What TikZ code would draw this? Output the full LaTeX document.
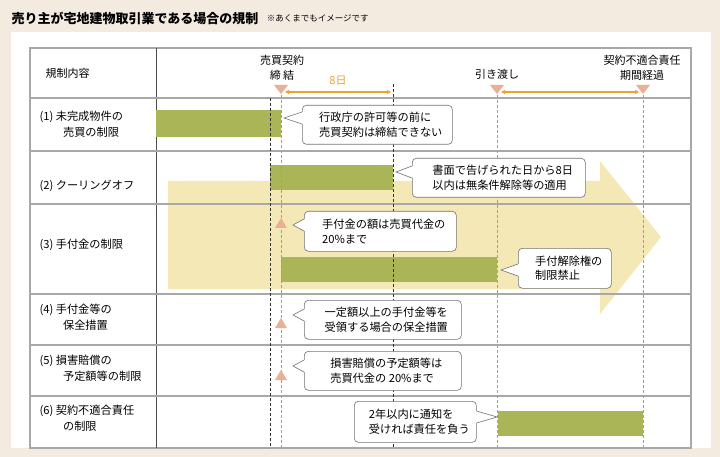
\documentclass[tikz,border=0pt]{standalone}
\usepackage{fontspec}
\setmainfont{Noto Sans CJK JP}
\usetikzlibrary{calc,positioning,arrows.meta}
\definecolor{bgbeige}{HTML}{F3EAE0}
\definecolor{barolive}{HTML}{AAB558}
\definecolor{bigarrow}{HTML}{F4E8B6}
\definecolor{tripink}{HTML}{EBAF95}
\definecolor{daysorange}{HTML}{F0A030}
\definecolor{rowgray}{HTML}{A8A8A8}
\definecolor{redline}{HTML}{E08080}
\begin{document}
\begin{tikzpicture}[x=1pt,y=-1pt,
    rowline/.style={draw=rowgray,line width=1.2pt},
    bar/.style={fill=barolive},
    blackdash/.style={densely dashed,black!80,line width=0.5pt},
    reddash/.style={densely dashed,redline,line width=0.5pt},
    callout/.style={draw=black!55,fill=white,rounded corners=4pt,line width=0.6pt,
        align=left,font=\fontsize{11.2}{14.5}\selectfont,inner sep=0pt,anchor=north west},
    rowlabel/.style={anchor=west,align=left,font=\fontsize{11.2}{16}\selectfont},
    headlabel/.style={align=center,font=\fontsize{11}{14.5}\selectfont},
    downtri/.style={fill=tripink},
    daysarrow/.style={{Triangle[length=4pt,width=4pt]}-{Triangle[length=4pt,width=4pt]},daysorange,line width=1.2pt}
    ]
% background and panel
\fill[bgbeige] (0,0) rectangle (720,457);
\fill[white] (11,32) rectangle (711,448);
\node[anchor=west,font=\bfseries\fontsize{13}{14}\selectfont] (title) at (8,18) {売り主が宅地建物取引業である場合の規制};
\node[anchor=west,font=\fontsize{8.5}{10}\selectfont] (note) at (title.east) {\,※あくまでもイメージです};

% big yellow arrow
\fill[bigarrow] (168,181) -- (600,181) -- (600,161) -- (661,237) -- (600,314) -- (600,289) -- (168,289) -- cycle;

% table frame
\draw[rowline] (30,48) rectangle (691,448);
\draw[black!70,line width=0.6pt] (156,48) -- (156,448);
\foreach \y in {98,151,204,294,345,396}
  \draw[rowline] (30,\y) -- (691,\y);

% bars
\fill[bar] (156,110) rectangle (281,137);
\fill[bar] (270,165) rectangle (393,190);
\fill[bar] (281,257) rectangle (497,282);
\fill[bar] (498,411) rectangle (643,436);

% vertical guide lines
\draw[blackdash] (270,98) -- (270,448);
\draw[blackdash] (393,84) -- (393,448);
\foreach \x in {281,497,643}
  \draw[reddash] (\x,95) -- (\x,448);

% header
\node[headlabel,anchor=west] (head) at (42,73) {規制内容};
\node[headlabel] (contract) at (282,68) {売買契約\\締 結};
\node[headlabel] (handover) at (497,74) {引き渡し};
\node[headlabel] (expiry) at (642,68) {契約不適合責任\\期間経過};
\foreach \x in {281,497,643}
  \fill[downtri] (\x-7,85) -- (\x+7,85) -- (\x,94) -- cycle;
\coordinate (d1) at (285,92);
\coordinate (d2) at (391,92);
\coordinate (d3) at (501,92);
\coordinate (d4) at (639,92);
\draw[daysarrow] (d1) -- (d2);
\draw[daysarrow] (d3) -- (d4);
\node[font=\fontsize{11}{12}\selectfont,text=daysorange] (eight) at (338,81) {8日};

% row labels
\node[rowlabel] (r1) at (36,124) {(1) 未完成物件の\\\hspace*{2.1em}売買の制限};
\node[rowlabel] (r2) at (36,186) {(2) クーリングオフ};
\node[rowlabel] (r3) at (36,245) {(3) 手付金の制限};
\node[rowlabel] (r4) at (36,317) {(4) 手付金等の\\\hspace*{2.1em}保全措置};
\node[rowlabel] (r5) at (36,368) {(5) 損害賠償の\\\hspace*{2.1em}予定額等の制限};
\node[rowlabel] (r6) at (36,418) {(6) 契約不適合責任\\\hspace*{2.1em}の制限};

% small up triangles
\foreach \y in {218,318,370}
  \fill[downtri] (275,\y+10) -- (287,\y+10) -- (281,\y) -- cycle;

% callouts
\node[callout,minimum width=150pt,minimum height=39pt] (c1) at (302,105) {\hspace*{7pt}行政庁の許可等の前に\\\hspace*{7pt}売買契約は締結できない};
\node[callout,minimum width=173pt,minimum height=39pt] (c2) at (412,158) {\hspace*{8pt}書面で告げられた日から8日\\\hspace*{8pt}以内は無条件解除等の適用};
\node[callout,minimum width=152pt,minimum height=40pt] (c3) at (304,211) {\hspace*{7pt}手付金の額は売買代金の\\\hspace*{7pt}20\%まで};
\node[callout,minimum width=93pt,minimum height=40pt] (c4) at (518,248) {\hspace*{8pt}手付解除権の\\\hspace*{8pt}制限禁止};
\node[callout,minimum width=157pt,minimum height=39pt] (c5) at (304,300) {\hspace*{7pt}一定額以上の手付金等を\\\hspace*{7pt}受領する場合の保全措置};
\node[callout,minimum width=157pt,minimum height=39pt] (c6) at (304,351) {\hspace*{7pt}損害賠償の予定額等は\\\hspace*{7pt}売買代金の 20\%まで};
\node[callout,minimum width=122pt,minimum height=41pt] (c7) at (354,401) {\hspace*{8pt}2年以内に通知を\\\hspace*{8pt}受ければ責任を負う};

% pointers
\coordinate (t1) at (284,118);
\coordinate (t2) at (396,172);
\coordinate (t3) at (293,225);
\coordinate (t4) at (501,270);
\coordinate (t5) at (293,315);
\coordinate (t6) at (293,366);
\coordinate (t7) at (497,417);
\foreach \c/\t/\a/\b in {c1/t1/112/124,c2/t2/166/178,c3/t3/219/231,c4/t4/264/276,c5/t5/309/321,c6/t6/360/372}{
  \fill[white] ($(\c.west|-0,\a)+(0.8,0)$) -- (\t) -- ($(\c.west|-0,\b)+(0.8,0)$) -- cycle;
  \draw[black!55,line width=0.6pt] ($(\c.west|-0,\a)$) -- (\t) -- ($(\c.west|-0,\b)$);
}
\fill[white] ($(c7.east|-0,411)+(-0.8,0)$) -- (t7) -- ($(c7.east|-0,423)+(-0.8,0)$) -- cycle;
\draw[black!55,line width=0.6pt] (c7.east|-0,411) -- (t7) -- (c7.east|-0,423);
\end{tikzpicture}
\end{document}
